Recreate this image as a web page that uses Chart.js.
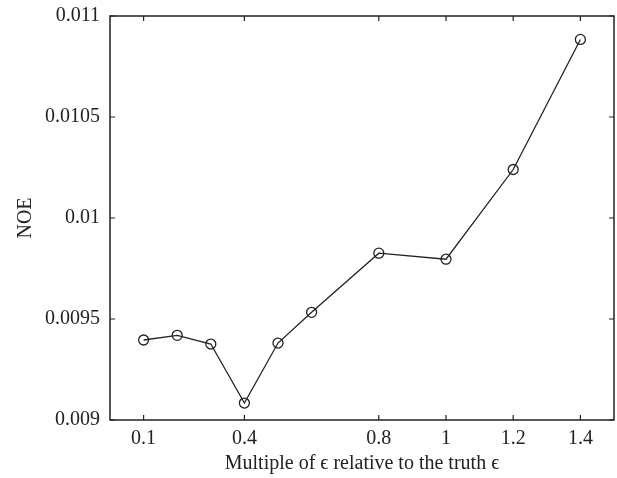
<!DOCTYPE html>
<html>
<head>
<meta charset="utf-8">
<script src="https://cdn.jsdelivr.net/npm/chart.js@4/dist/chart.umd.min.js"></script>
<style>
  html, body { margin: 0; padding: 0; background: #fff; }
  #wrap { width: 617px; height: 478px; }
</style>
</head>
<body>
<div id="wrap"><canvas id="c" width="617" height="478"></canvas></div>
<script>
// multiples of epsilon and the NOE
const multiples = [0.1, 0.2, 0.3, 0.4, 0.5, 0.6, 0.8, 1.0, 1.2, 1.4];
const noe = [0.009396, 0.009419, 0.009376, 0.009084, 0.009381, 0.009533, 0.009826, 0.009796, 0.01024, 0.010884];
const xTicks = [0.1, 0.4, 0.8, 1, 1.2, 1.4];
const yTicks = [0.009, 0.0095, 0.01, 0.0105, 0.011];

const ink = "#222";
const serif = "'Liberation Serif', 'DejaVu Serif', serif";

// box around the plot + ticks pointing inward on all four sides
const frame = {
  id: "frame",
  afterDraw(chart) {
    const { ctx, chartArea: a, scales } = chart;
    ctx.save();
    ctx.strokeStyle = ink;
    ctx.lineWidth = 1.5;
    ctx.strokeRect(a.left, a.top, a.right - a.left, a.bottom - a.top);
    ctx.lineWidth = 1.2;
    ctx.beginPath();
    xTicks.forEach((v) => {
      const x = scales.x.getPixelForValue(v);
      ctx.moveTo(x, a.bottom); ctx.lineTo(x, a.bottom - 5);
      ctx.moveTo(x, a.top); ctx.lineTo(x, a.top + 5);
    });
    yTicks.forEach((v) => {
      const y = scales.y.getPixelForValue(v);
      ctx.moveTo(a.left, y); ctx.lineTo(a.left + 5, y);
      ctx.moveTo(a.right, y); ctx.lineTo(a.right - 5, y);
    });
    ctx.stroke();
    ctx.restore();
  },
};

new Chart(document.getElementById("c").getContext("2d"), {
  type: "line",
  data: {
    datasets: [
      {
        data: multiples.map((m, i) => ({ x: m, y: noe[i] })),
        borderColor: ink,
        borderWidth: 1.3,
        pointRadius: 5,
        pointBorderWidth: 1.3,
        pointBorderColor: ink,
        pointBackgroundColor: "rgba(0,0,0,0)",
        fill: false,
        tension: 0,
      },
    ],
  },
  options: {
    responsive: false,
    animation: false,
    layout: { autoPadding: false, padding: { left: 14, right: 3, top: 0, bottom: 2 } },
    plugins: { legend: { display: false }, tooltip: { enabled: false } },
    scales: {
      x: {
        type: "linear",
        min: 0,
        max: 1.5,
        afterBuildTicks: (s) => { s.ticks = xTicks.map((v) => ({ value: v })); },
        afterFit: (s) => { s.height = 56; },
        grid: { display: false, drawTicks: false },
        border: { display: false },
        ticks: {
          color: ink,
          padding: 7,
          maxRotation: 0,
          font: { family: serif, size: 20 },
          callback: (v) => String(v),
        },
        title: {
          display: true,
          text: "Multiple of ϵ relative to the truth ϵ",
          color: ink,
          font: { family: serif, size: 20 },
          padding: { top: 2, bottom: 0 },
        },
      },
      y: {
        type: "linear",
        min: 0.009,
        max: 0.011,
        afterBuildTicks: (s) => { s.ticks = yTicks.map((v) => ({ value: v })); },
        afterFit: (s) => { s.width = 96; s.paddingTop = 16; s.paddingBottom = 0; },
        grid: { display: false, drawTicks: false },
        border: { display: false },
        ticks: {
          color: ink,
          padding: 10,
          font: { family: serif, size: 20 },
          callback: (v) => String(v),
        },
        title: {
          display: true,
          text: "NOE",
          color: ink,
          font: { family: serif, size: 20 },
          padding: { top: 0, bottom: 6 },
        },
      },
    },
  },
  plugins: [frame],
});
</script>
</body>
</html>
